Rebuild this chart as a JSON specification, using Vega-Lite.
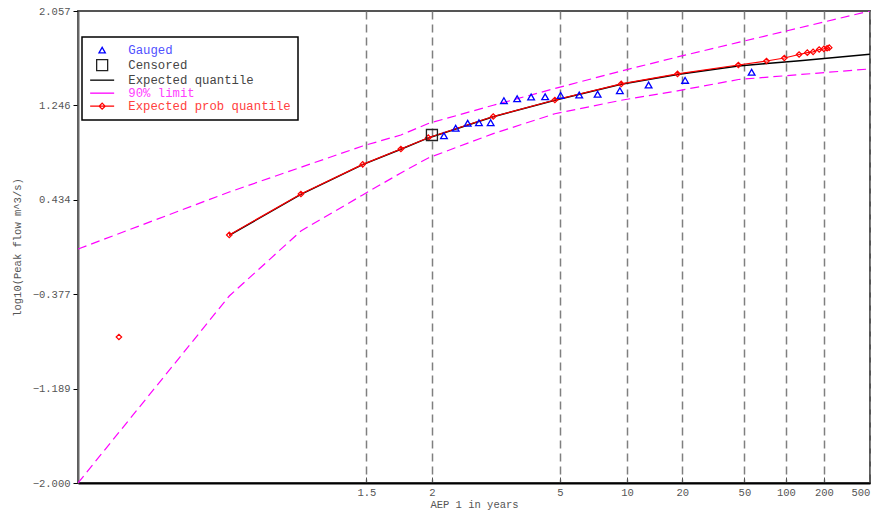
{
  "$schema": "https://vega.github.io/schema/vega-lite/v6.json",
  "width": 792,
  "height": 472,
  "autosize": {"type": "none"},
  "padding": {"left": 78, "top": 11, "right": 1, "bottom": 30},
  "background": "white",
  "config": {
    "font": "Liberation Mono",
    "view": {"stroke": "#555", "strokeWidth": 2},
    "axis": {"labelFont": "Liberation Mono", "titleFont": "Liberation Mono", "labelFontSize": 10.5, "titleFontSize": 10.5, "labelColor": "#555", "titleColor": "#555", "titleFontWeight": "normal"}
  },
  "datasets": {
    "limits": [
      {"series": "90% limit", "bound": "upper", "q": -2.326, "y": 0.011},
      {"series": "90% limit", "bound": "upper", "q": -1.332, "y": 0.501},
      {"series": "90% limit", "bound": "upper", "q": -0.861, "y": 0.714},
      {"series": "90% limit", "bound": "upper", "q": -0.455, "y": 0.897},
      {"series": "90% limit", "bound": "upper", "q": -0.204, "y": 0.991},
      {"series": "90% limit", "bound": "upper", "q": -0.024, "y": 1.090},
      {"series": "90% limit", "bound": "upper", "q": 0.403, "y": 1.247},
      {"series": "90% limit", "bound": "upper", "q": 0.808, "y": 1.391},
      {"series": "90% limit", "bound": "upper", "q": 1.244, "y": 1.541},
      {"series": "90% limit", "bound": "upper", "q": 1.614, "y": 1.662},
      {"series": "90% limit", "bound": "upper", "q": 2.014, "y": 1.787},
      {"series": "90% limit", "bound": "upper", "q": 2.878, "y": 2.057},
      {"series": "90% limit", "bound": "lower", "q": -2.326, "y": -2.0},
      {"series": "90% limit", "bound": "lower", "q": -1.332, "y": -0.393},
      {"series": "90% limit", "bound": "lower", "q": -0.861, "y": 0.166},
      {"series": "90% limit", "bound": "lower", "q": -0.455, "y": 0.476},
      {"series": "90% limit", "bound": "lower", "q": -0.204, "y": 0.665},
      {"series": "90% limit", "bound": "lower", "q": -0.024, "y": 0.794},
      {"series": "90% limit", "bound": "lower", "q": 0.403, "y": 1.003},
      {"series": "90% limit", "bound": "lower", "q": 0.808, "y": 1.174},
      {"series": "90% limit", "bound": "lower", "q": 1.244, "y": 1.290},
      {"series": "90% limit", "bound": "lower", "q": 1.614, "y": 1.371},
      {"series": "90% limit", "bound": "lower", "q": 2.014, "y": 1.468},
      {"series": "90% limit", "bound": "lower", "q": 2.878, "y": 1.559}
    ],
    "expected": [
      {"series": "Expected quantile", "q": -1.332, "y": 0.128},
      {"series": "Expected quantile", "q": -0.861, "y": 0.481},
      {"series": "Expected quantile", "q": -0.455, "y": 0.737},
      {"series": "Expected quantile", "q": -0.204, "y": 0.869},
      {"series": "Expected quantile", "q": -0.024, "y": 0.966},
      {"series": "Expected quantile", "q": 0.403, "y": 1.148},
      {"series": "Expected quantile", "q": 0.808, "y": 1.290},
      {"series": "Expected quantile", "q": 1.244, "y": 1.427},
      {"series": "Expected quantile", "q": 1.614, "y": 1.512},
      {"series": "Expected quantile", "q": 2.014, "y": 1.585},
      {"series": "Expected quantile", "q": 2.200, "y": 1.606},
      {"series": "Expected quantile", "q": 2.319, "y": 1.619},
      {"series": "Expected quantile", "q": 2.418, "y": 1.629},
      {"series": "Expected quantile", "q": 2.595, "y": 1.651},
      {"series": "Expected quantile", "q": 2.878, "y": 1.685}
    ],
    "prob": [
      {"series": "Expected prob quantile", "seg": 0, "q": -2.057, "y": -0.745},
      {"series": "Expected prob quantile", "seg": 1, "q": -1.332, "y": 0.132},
      {"series": "Expected prob quantile", "seg": 1, "q": -0.861, "y": 0.484},
      {"series": "Expected prob quantile", "seg": 1, "q": -0.455, "y": 0.739},
      {"series": "Expected prob quantile", "seg": 1, "q": -0.204, "y": 0.871},
      {"series": "Expected prob quantile", "seg": 1, "q": -0.024, "y": 0.968},
      {"series": "Expected prob quantile", "seg": 1, "q": 0.403, "y": 1.150},
      {"series": "Expected prob quantile", "seg": 1, "q": 0.808, "y": 1.292},
      {"series": "Expected prob quantile", "seg": 1, "q": 1.244, "y": 1.430},
      {"series": "Expected prob quantile", "seg": 1, "q": 1.614, "y": 1.516},
      {"series": "Expected prob quantile", "seg": 1, "q": 2.014, "y": 1.593},
      {"series": "Expected prob quantile", "seg": 1, "q": 2.199, "y": 1.627},
      {"series": "Expected prob quantile", "seg": 1, "q": 2.316, "y": 1.653},
      {"series": "Expected prob quantile", "seg": 1, "q": 2.413, "y": 1.683},
      {"series": "Expected prob quantile", "seg": 1, "q": 2.467, "y": 1.699},
      {"series": "Expected prob quantile", "seg": 1, "q": 2.505, "y": 1.706},
      {"series": "Expected prob quantile", "seg": 1, "q": 2.545, "y": 1.726},
      {"series": "Expected prob quantile", "seg": 1, "q": 2.576, "y": 1.732},
      {"series": "Expected prob quantile", "seg": 1, "q": 2.597, "y": 1.737},
      {"series": "Expected prob quantile", "seg": 1, "q": 2.611, "y": 1.742}
    ],
    "gauged": [
      {"series": "Gauged", "q": 0.079, "y": 0.985},
      {"series": "Gauged", "q": 0.156, "y": 1.049},
      {"series": "Gauged", "q": 0.235, "y": 1.092},
      {"series": "Gauged", "q": 0.309, "y": 1.097},
      {"series": "Gauged", "q": 0.386, "y": 1.097},
      {"series": "Gauged", "q": 0.473, "y": 1.286},
      {"series": "Gauged", "q": 0.560, "y": 1.303},
      {"series": "Gauged", "q": 0.652, "y": 1.318},
      {"series": "Gauged", "q": 0.744, "y": 1.320},
      {"series": "Gauged", "q": 0.846, "y": 1.332},
      {"series": "Gauged", "q": 0.968, "y": 1.335},
      {"series": "Gauged", "q": 1.089, "y": 1.341},
      {"series": "Gauged", "q": 1.235, "y": 1.372},
      {"series": "Gauged", "q": 1.424, "y": 1.421},
      {"series": "Gauged", "q": 1.664, "y": 1.461},
      {"series": "Gauged", "q": 2.101, "y": 1.530}
    ],
    "censored": [
      {"series": "Censored", "q": 0.0, "y": 0.991}
    ]
  },
  "encoding": {
    "x": {
      "field": "q", "type": "quantitative",
      "scale": {"domain": [-2.326, 2.879], "nice": false, "zero": false},
      "axis": {
        "values": [-0.4307, 0, 0.8416, 1.2816, 1.6449, 2.0537, 2.3263, 2.5758, 2.8782],
        "labelExpr": "datum.value < -0.2 ? '1.5' : datum.value < 0.4 ? '2' : datum.value < 1 ? '5' : datum.value < 1.5 ? '10' : datum.value < 1.9 ? '20' : datum.value < 2.2 ? '50' : datum.value < 2.45 ? '100' : datum.value < 2.7 ? '200' : '500'",
        "title": "AEP 1 in years",
        "grid": true, "gridDash": [8, 5], "gridColor": "#7f7f7f", "gridWidth": 1.5,
        "tickSize": -6, "tickColor": "#555", "tickWidth": 1,
        "domainColor": "#000", "domainWidth": 2,
        "labelPadding": 10, "labelFlush": true, "labelOverlap": false,
        "titlePadding": 2
      }
    },
    "y": {
      "field": "y", "type": "quantitative",
      "scale": {"domain": [-2, 2.057], "nice": false, "zero": false},
      "axis": {
        "values": [-2, -1.1886, -0.3772, 0.4342, 1.2456, 2.057],
        "format": ".3f",
        "title": "log10(Peak flow m^3/s)",
        "grid": false, "tickSize": 5, "tickColor": "#000",
        "domainColor": "#666", "domainWidth": 2,
        "labelPadding": 3, "labelOverlap": false, "labelFlush": false,
        "titlePadding": 10
      }
    }
  },
  "layer": [
    {
      "data": {"name": "limits"},
      "mark": {"type": "line", "strokeDash": [9, 5], "strokeWidth": 1.2, "clip": true},
      "encoding": {
        "detail": {"field": "bound", "type": "nominal"},
        "color": {
          "field": "series", "type": "nominal",
          "scale": {
            "domain": ["Gauged", "Censored", "Expected quantile", "90% limit", "Expected prob quantile"],
            "range": ["#0000ff", "#222222", "#000000", "#ff00ff", "#ff0000"]
          },
          "legend": {
            "title": null, "orient": "none", "legendX": 4, "legendY": 26,
            "strokeColor": "#000", "fillColor": "#fff", "padding": 7,
            "labelFont": "Liberation Mono", "labelFontSize": 12.3, "labelLimit": 300,
            "labelOffset": 20, "symbolOffset": 7, "symbolSize": 100, "rowPadding": 0,
            "encode": {
              "symbols": {"update": {
                "shape": {"signal": "datum.value === 'Gauged' ? 'triangle-up' : datum.value === 'Censored' ? 'square' : datum.value === 'Expected prob quantile' ? 'M-2.4,0H2.4M-0.6,0L0,-0.6L0.6,0L0,0.6Z' : 'M-2.4,0H2.4'"},
                "size": {"signal": "datum.value === 'Gauged' ? 40 : datum.value === 'Censored' ? 121 : 100"},
                "stroke": {"signal": "datum.value === 'Gauged' ? '#0000ff' : datum.value === '90% limit' ? '#ff00ff' : datum.value === 'Expected prob quantile' ? '#ff0000' : '#000000'"},
                "fill": {"value": "transparent"},
                "strokeWidth": {"value": 1.3},
                "strokeDash": {"value": []},
                "opacity": {"value": 1}
              }},
              "labels": {"update": {
                "fill": {"signal": "datum.value === 'Gauged' ? '#5050ff' : datum.value === '90% limit' ? '#ff40ff' : datum.value === 'Expected prob quantile' ? '#ff4040' : '#444444'"}
              }},
              "legend": {"update": {"strokeWidth": {"value": 1.5}}}
            }
          }
        }
      }
    },
    {
      "data": {"name": "expected"},
      "mark": {"type": "line", "strokeWidth": 1.5, "clip": true},
      "encoding": {"color": {"field": "series", "type": "nominal"}}
    },
    {
      "data": {"name": "prob"},
      "mark": {"type": "line", "strokeWidth": 1.2, "clip": true, "point": {"shape": "diamond", "filled": false, "size": 30, "strokeWidth": 1.2, "opacity": 1}},
      "encoding": {
        "detail": {"field": "seg", "type": "nominal"},
        "color": {"field": "series", "type": "nominal"}
      }
    },
    {
      "data": {"name": "gauged"},
      "mark": {"type": "point", "shape": "triangle-up", "filled": false, "size": 45, "strokeWidth": 1.3, "opacity": 1},
      "encoding": {"color": {"field": "series", "type": "nominal"}}
    },
    {
      "data": {"name": "censored"},
      "mark": {"type": "point", "shape": "square", "filled": false, "size": 121, "strokeWidth": 1.3, "opacity": 1},
      "encoding": {"color": {"field": "series", "type": "nominal"}}
    }
  ]
}
